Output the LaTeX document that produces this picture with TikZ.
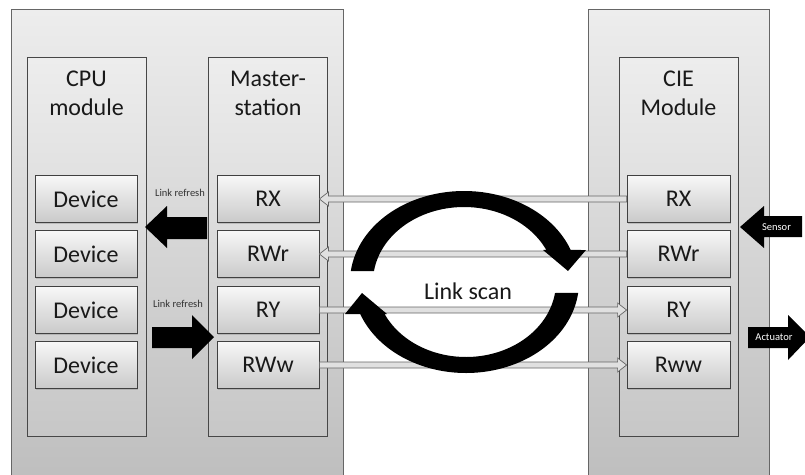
\documentclass[tikz,border=0pt]{standalone}
\usepackage{fontspec}
\setmainfont{Carlito}
\usetikzlibrary{calc,shadows}
\begin{document}
\begin{tikzpicture}[x=1pt,y=-1pt,
  panel/.style={draw=black!60, line width=0.8pt, top color=black!7, bottom color=black!26, inner sep=0pt},
  module/.style={draw=black!72, line width=0.8pt, top color=black!7, bottom color=black!22, inner sep=0pt, minimum width=119pt, minimum height=379pt},
  cell/.style={draw=black!75, line width=0.8pt, top color=black!3, bottom color=black!21, inner sep=0pt, minimum width=102pt, minimum height=47pt, font=\fontsize{24}{29}\selectfont, text=black!90, drop shadow={shadow xshift=1.2pt, shadow yshift=-1.2pt, opacity=0.35}},
  title/.style={font=\fontsize{24}{29}\selectfont, align=center, anchor=north, inner sep=0pt, text=black!90},
  small/.style={font=\fontsize{10.5}{12}\selectfont, inner sep=0pt, text=black!80},
  conn/.style={fill=black!12, draw=black!60, line width=0.7pt},
  bigarrow/.style={fill=black},
]
\clip (0,0) rectangle (805,474);
\fill[white] (0,0) rectangle (805,474);

% outer panels
\node[panel, minimum width=332pt, minimum height=485pt, anchor=north west] (outerL) at (11,9) {};
\node[panel, minimum width=181pt, minimum height=485pt, anchor=north west] (outerR) at (588,9) {};

% module columns
\node[module] (cpu) at (86.5,246.5) {};
\node[module] (mst) at (268,246.5) {};
\node[module] (cie) at (678.5,246.5) {};
\node[title] (cpuT) at (86.5,70.5) {CPU\\module};
\node[title] (mstT) at (268,70.5) {Master-\\station};
\node[title] (cieT) at (678.5,70.5) {CIE\\Module};

% cells
\node[cell] (d1) at (86,199) {Device};
\node[cell] (d2) at (86,254) {Device};
\node[cell] (d3) at (86,310) {Device};
\node[cell] (d4) at (86,365) {Device};
\node[cell] (rxL) at (268,199) {RX};
\node[cell] (rwrL) at (268,254) {RWr};
\node[cell] (ryL) at (268,310) {RY};
\node[cell] (rwwL) at (268,365) {RWw};
\node[cell, minimum width=103pt] (rxR) at (678.5,199) {RX};
\node[cell, minimum width=103pt] (rwrR) at (678.5,254) {RWr};
\node[cell, minimum width=103pt] (ryR) at (678.5,310) {RY};
\node[cell, minimum width=103pt] (rwwR) at (678.5,365) {Rww};

% connectors
\foreach \r/\l in {rxR/rxL, rwrR/rwrL}{
  \filldraw[conn] ($(\r.west)+(0,-3)$) -- ($(\l.east)+(9,-3)$) -- ($(\l.east)+(9,-7)$) -- (\l.east)
    -- ($(\l.east)+(9,7)$) -- ($(\l.east)+(9,3)$) -- ($(\r.west)+(0,3)$) -- cycle;
}
\foreach \l/\r in {ryL/ryR, rwwL/rwwR}{
  \filldraw[conn] ($(\l.east)+(0,-3)$) -- ($(\r.west)+(-9,-3)$) -- ($(\r.west)+(-9,-7)$) -- (\r.west)
    -- ($(\r.west)+(-9,7)$) -- ($(\r.west)+(-9,3)$) -- ($(\l.east)+(0,3)$) -- cycle;
}

% link refresh arrows
\fill[bigarrow] (145,227) -- (167,206) -- (167,217) -- (207,217) -- (207,239) -- (167,239) -- (167,248) -- cycle;
\fill[bigarrow] (214,337) -- (192,315) -- (192,327) -- (152,327) -- (152,348) -- (192,348) -- (192,359) -- cycle;
\node[small] (lr1) at (180,193) {Link refresh};
\node[small] (lr2) at (178,304) {Link refresh};

% sensor / actuator
\fill[bigarrow] (740,227) -- (764,206) -- (764,216) -- (802,216) -- (802,237) -- (764,237) -- (764,248) -- cycle;
\node[small, text=white] (sens) at (776.5,227) {Sensor};
\fill[bigarrow] (748,327) -- (788,327) -- (788,315) -- (810,337) -- (788,360) -- (788,348) -- (748,348) -- cycle;
\node[small, text=white] (act) at (774,337) {Actuator};

% link scan circular arrows
\fill[bigarrow] plot[domain=186.9:339.4, samples=80] ({464+114*cos(\x)},{282+91*sin(\x)})
  -- (586,250) -- (568,271) -- (543,250)
  -- plot[domain=334.7:188.4, samples=80] ({464+91*cos(\x)},{282+75*sin(\x)}) -- cycle;
\fill[bigarrow] plot[domain=6.94:159.4, samples=80] ({466+113*cos(\x)},{282+91*sin(\x)})
  -- (345,314) -- (362,293) -- (387,314)
  -- plot[domain=154.7:8.43, samples=80] ({466+90*cos(\x)},{282+75*sin(\x)}) -- cycle;
\node[font=\fontsize{24}{29}\selectfont, anchor=base, inner sep=0pt, text=black!90] (scan) at (468,299) {Link scan};
\end{tikzpicture}
\end{document}
